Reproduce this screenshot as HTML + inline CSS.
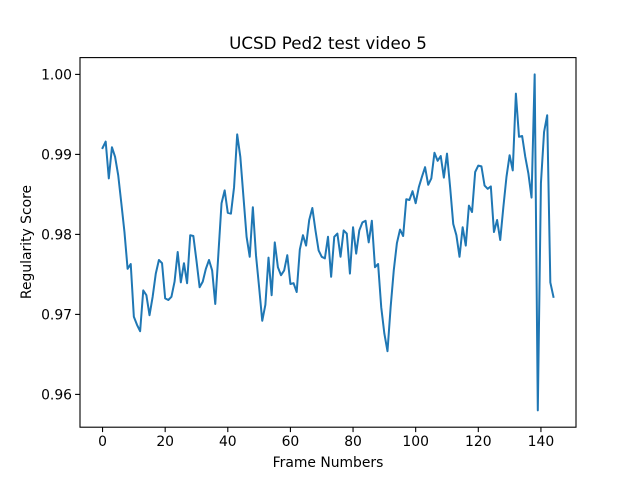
<!DOCTYPE html>
<html><head><meta charset="utf-8"><style>
body{margin:0;background:#fff}
svg{display:block;font-family:"DejaVu Sans","Liberation Sans",sans-serif}
</style></head><body>
<svg id="chart" width="640" height="480">
<rect width="640" height="480" fill="#fff"/>
<text x="328" y="49" font-size="16.7" text-anchor="middle">UCSD Ped2 test video 5</text>
<text x="328" y="467" font-size="13.9" text-anchor="middle">Frame Numbers</text>
<text transform="translate(31,242) rotate(-90)" font-size="13.9" text-anchor="middle">Regularity Score</text>
<g id="ticks"></g>
<path id="line" fill="none" stroke="#1f77b4" stroke-width="2" stroke-linejoin="round" stroke-linecap="square"/>
<rect x="80" y="57.6" width="496" height="369.6" fill="none" stroke="#000" stroke-width="1.1"/>
</svg>
<script>
const scores = [0.9908,0.9916,0.9870,0.9909,0.9897,0.9874,0.9839,0.9803,0.9757,0.9763,
0.9697,0.9687,0.9679,0.9730,0.9724,0.9699,0.9722,0.9751,0.9768,0.9764,
0.9720,0.9718,0.9722,0.9741,0.9778,0.9740,0.9764,0.9739,0.9799,0.9798,
0.9767,0.9734,0.9741,0.9757,0.9768,0.9755,0.9713,0.9776,0.9839,0.9855,
0.9827,0.9826,0.9859,0.9925,0.9897,0.9847,0.9797,0.9772,0.9834,0.9774,
0.9734,0.9692,0.9712,0.9771,0.9724,0.9790,0.9759,0.9749,0.9755,0.9774,
0.9738,0.9739,0.9728,0.9781,0.9799,0.9786,0.9818,0.9833,0.9805,0.9780,
0.9772,0.9770,0.9797,0.9747,0.9797,0.9801,0.9772,0.9805,0.9801,0.9751,
0.9809,0.9776,0.9805,0.9815,0.9817,0.9790,0.9817,0.9759,0.9763,0.9709,
0.9676,0.9654,0.9709,0.9755,0.9789,0.9806,0.9798,0.9844,0.9843,0.9854,
0.9839,0.9859,0.9872,0.9884,0.9862,0.9870,0.9902,0.9892,0.9898,0.9871,
0.9901,0.9859,0.9813,0.9799,0.9772,0.9809,0.9786,0.9836,0.9828,0.9878,
0.9886,0.9885,0.9861,0.9857,0.9860,0.9803,0.9818,0.9793,0.9834,0.9872,
0.9899,0.9880,0.9976,0.9922,0.9923,0.9897,0.9876,0.9846,1.0000,0.9580,
0.9864,0.9928,0.9949,0.9740,0.9722];
const xTicks = [0,20,40,60,80,100,120,140];
const yTicks = [0.96,0.97,0.98,0.99,1.00];
const yTickLabels = ["0.96","0.97","0.98","0.99","1.00"];

const L=80,R=576,T=57.6,B=427.2;
const n=scores.length;
const xmin=-(n-1)*0.05, xmax=(n-1)*1.05;
let lo=Math.min(...scores), hi=Math.max(...scores), pad=(hi-lo)*0.05;
const ymin=lo-pad, ymax=hi+pad;
const sx=v=>L+(v-xmin)/(xmax-xmin)*(R-L);
const sy=v=>B-(v-ymin)/(ymax-ymin)*(B-T);
const NS="http://www.w3.org/2000/svg";
const g=document.getElementById('ticks');
function mk(tag,attrs,parent){const e=document.createElementNS(NS,tag);for(const k in attrs)e.setAttribute(k,attrs[k]);parent.appendChild(e);return e;}
xTicks.forEach(t=>{
  const x=sx(t);
  const tk=mk('line',{x1:x,x2:x,y1:B,y2:B+4.9,stroke:'#000','stroke-width':1.1},g);
  
  
  const tx=mk('text',{x:x,y:B+19,'font-size':13.9,'text-anchor':'middle'},g);
  tx.textContent=String(t);
  
  
});
yTicks.forEach((t,i)=>{
  const y=sy(t);
  const tk=mk('line',{x1:L-4.9,x2:L,y1:y,y2:y,stroke:'#000','stroke-width':1.1},g);
  
  
  const tx=mk('text',{x:L-8,y:y+5,'font-size':13.9,'text-anchor':'end'},g);
  tx.textContent=yTickLabels[i];
  
  
});
document.getElementById('line').setAttribute('d',scores.map((v,i)=>(i?'L':'M')+sx(i).toFixed(2)+','+sy(v).toFixed(2)).join(''));
</script>
</body></html>
